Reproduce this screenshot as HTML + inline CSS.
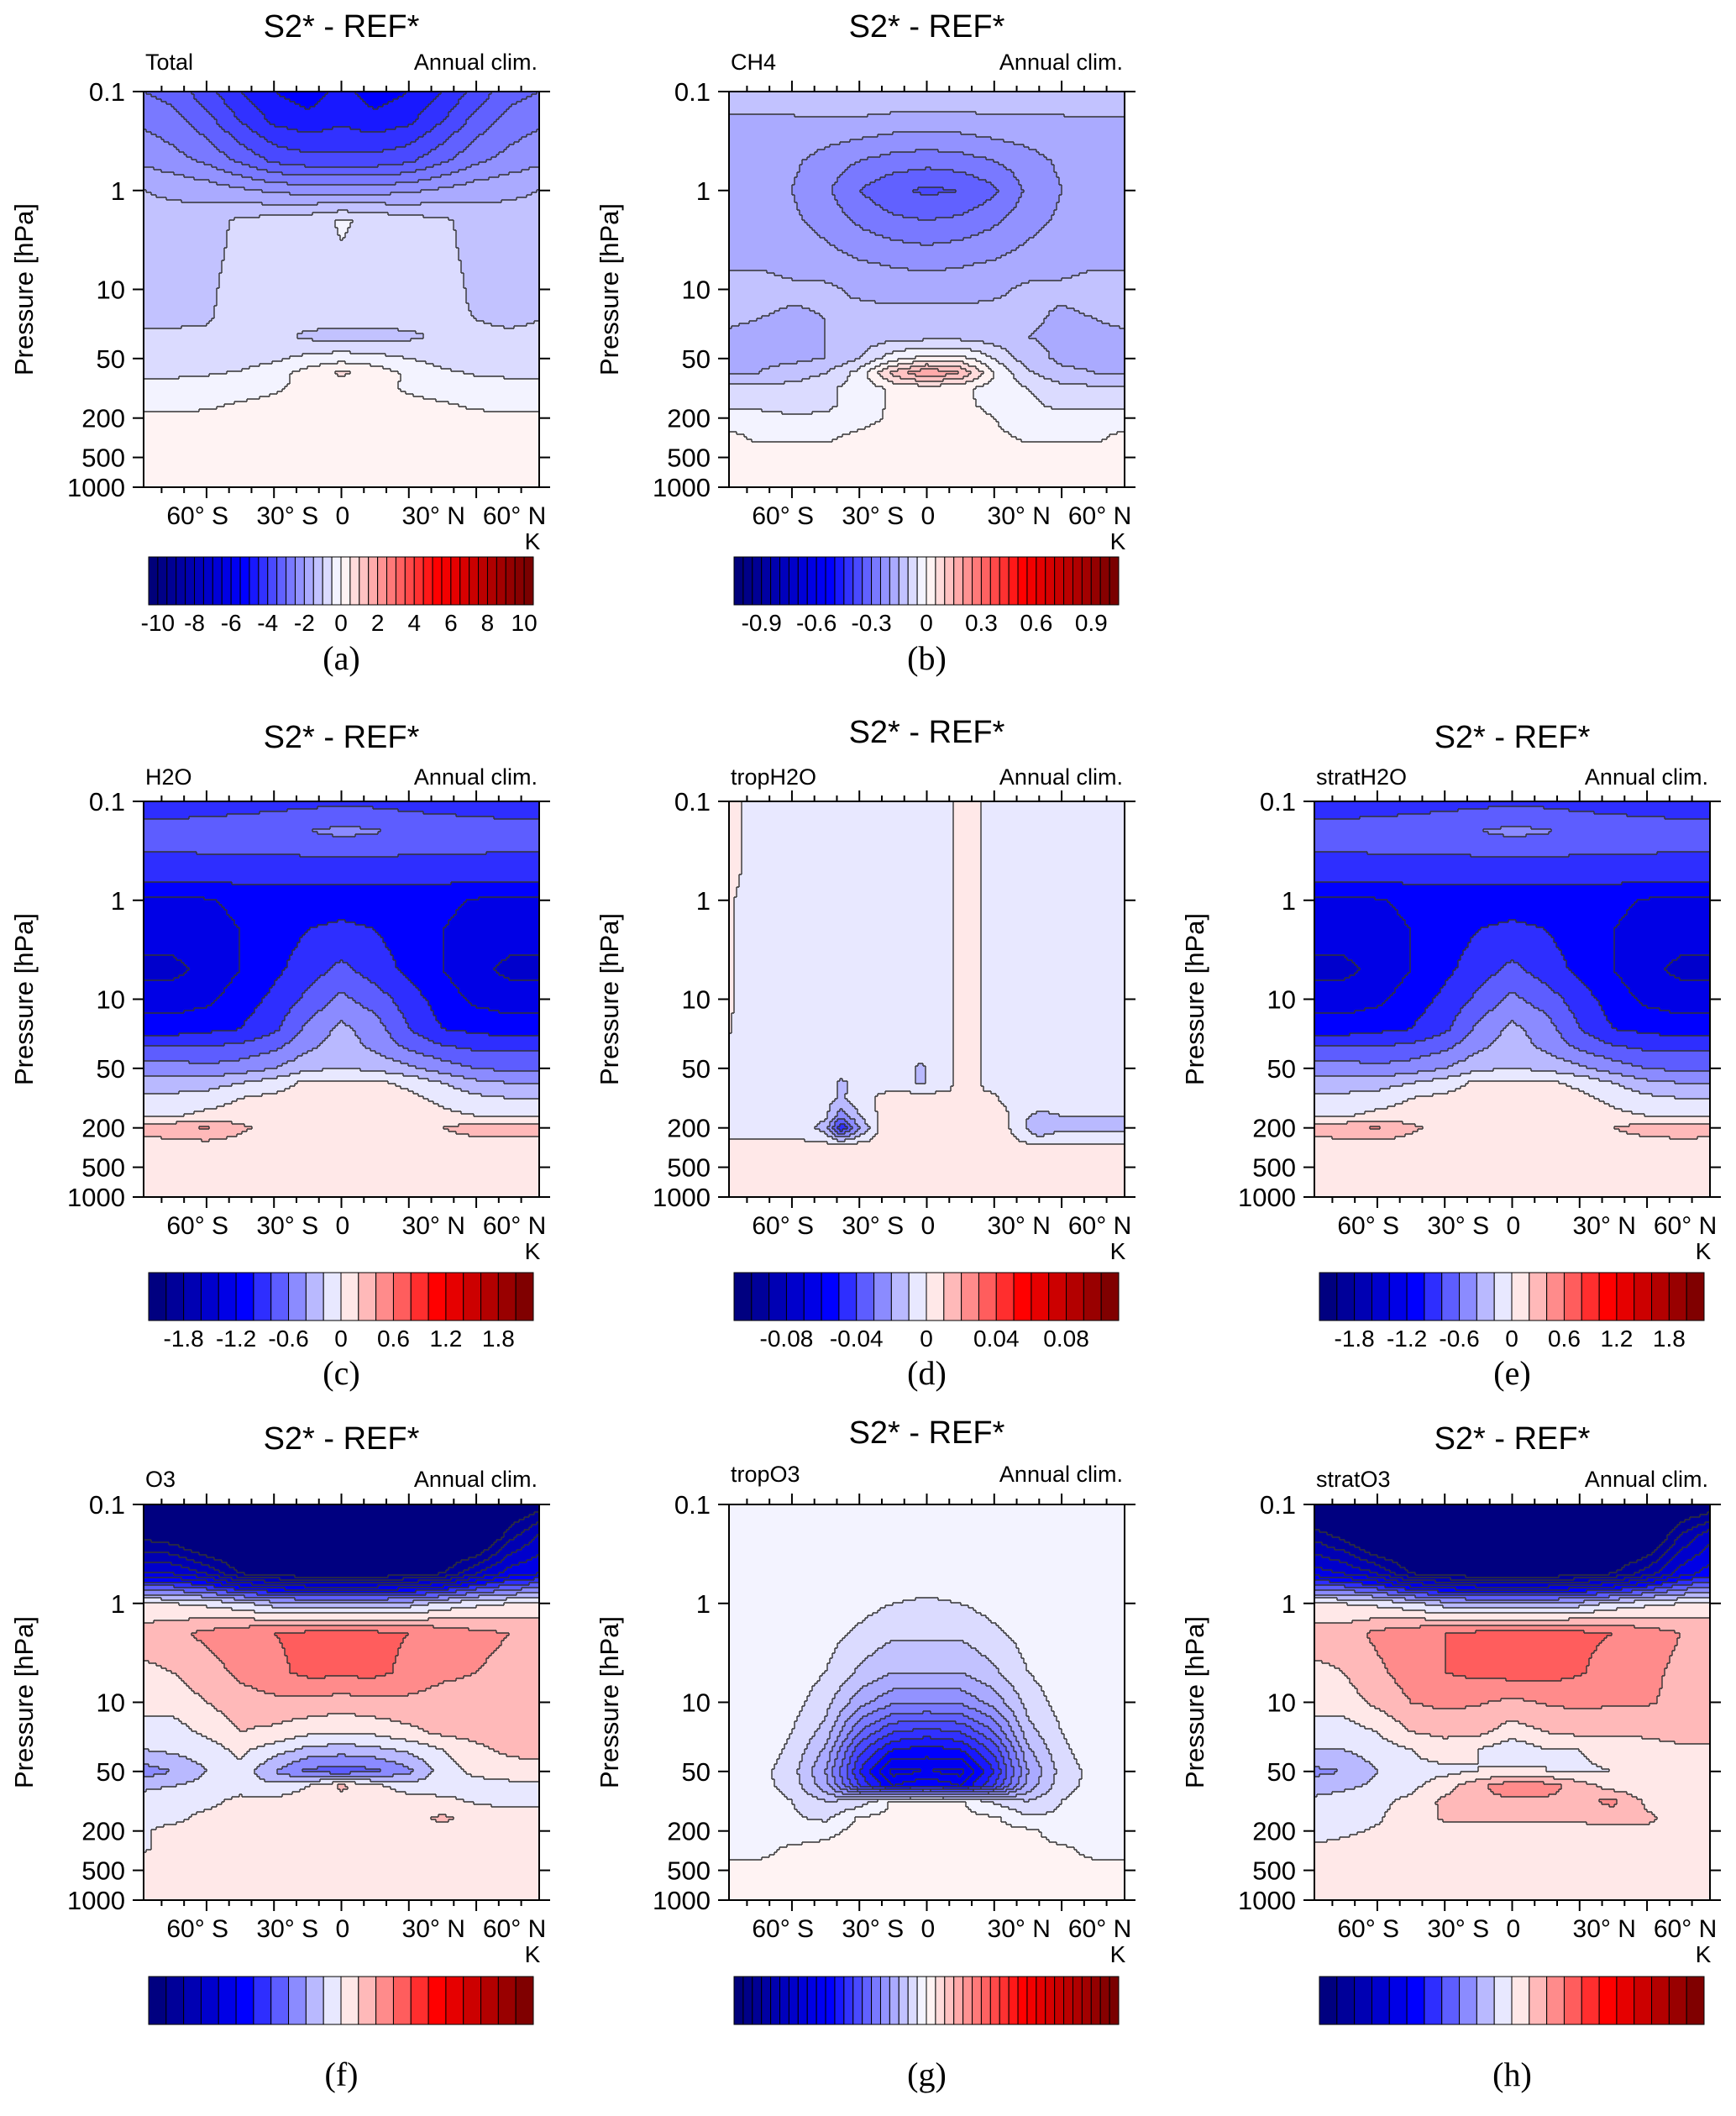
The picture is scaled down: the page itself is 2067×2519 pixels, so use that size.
<!DOCTYPE html>
<html><head><meta charset="utf-8"><title>S2* - REF* zonal mean temperature differences</title>
<style>
html,body{margin:0;padding:0;background:#fff;}
svg{display:block;font-family:"Liberation Sans",sans-serif;}
</style></head>
<body>
<svg id="fig" width="2067" height="2519" viewBox="0 0 2067 2519" xmlns="http://www.w3.org/2000/svg"></svg>
<script>
// ---------- shared axes ----------
const PLEV = [0.1,0.2,0.5,1,2,5,10,20,30,50,70,100,150,200,300,500,1000];
const LATS = [-88,-75,-60,-45,-30,-15,0,15,30,45,60,75,88];
const LATS_D = [-88,-84,-80,-70,-55,-45,-38,-30,-20,-10,-3,5,10,14,22,26,35,42,50,60,75,88];
const yTickVals = [0.1,1,10,50,200,500,1000];
const yTickLabels = ["0.1","1","10","50","200","500","1000"];
const xTickLabels = ["60° S","30° S","0","30° N","60° N"];
const xTickLabelLats = [-64,-24,0.5,41,77];

// ---------- (a) Total ----------
const fieldTotal = [
[-3,-3.2,-3.8,-4.5,-5,-5.3,-4.8,-5.3,-5,-4.5,-3.8,-3.2,-3],
[-2.6,-2.8,-3.3,-4,-4.6,-4.8,-4.6,-4.8,-4.6,-4,-3.3,-2.8,-2.6],
[-2.1,-2.3,-2.6,-3.1,-3.6,-3.8,-3.8,-3.8,-3.6,-3.1,-2.6,-2.3,-2.1],
[-1.5,-1.6,-1.7,-1.9,-2.1,-2.2,-2.2,-2.2,-2.1,-1.9,-1.7,-1.6,-1.5],
[-1.3,-1.3,-1.2,-0.9,-0.8,-0.7,-0.45,-0.6,-0.8,-0.9,-1.2,-1.3,-1.3],
[-1.2,-1.2,-1.1,-0.9,-0.7,-0.6,-0.55,-0.6,-0.7,-0.9,-1.1,-1.2,-1.2],
[-1.1,-1.2,-1.1,-0.8,-0.7,-0.7,-0.7,-0.7,-0.7,-0.8,-1.1,-1.2,-1.1],
[-1.1,-1.1,-1.05,-0.8,-0.8,-0.8,-0.8,-0.8,-0.8,-0.9,-1.0,-1.1,-1.0],
[-0.9,-0.9,-0.9,-0.85,-0.85,-1.1,-1.2,-1.2,-1.1,-0.9,-0.9,-0.9,-0.9],
[-0.8,-0.8,-0.8,-0.75,-0.6,-0.35,-0.2,-0.3,-0.5,-0.7,-0.8,-0.8,-0.8],
[-0.6,-0.6,-0.55,-0.45,-0.2,0.2,0.6,0.3,-0.1,-0.4,-0.55,-0.6,-0.6],
[-0.35,-0.3,-0.25,-0.15,-0.05,0.1,0.15,0.1,-0.05,-0.15,-0.25,-0.3,-0.35],
[-0.1,-0.1,-0.05,0.05,0.1,0.1,0.1,0.1,0.1,0.05,-0.05,-0.1,-0.1],
[0.1,0.1,0.1,0.1,0.1,0.1,0.1,0.1,0.1,0.1,0.1,0.1,0.1],
[0.1,0.1,0.1,0.1,0.1,0.1,0.1,0.1,0.1,0.1,0.1,0.1,0.1],
[0.1,0.1,0.1,0.1,0.1,0.1,0.1,0.1,0.1,0.1,0.1,0.1,0.1],
[0.1,0.1,0.1,0.1,0.1,0.1,0.1,0.1,0.1,0.1,0.1,0.1,0.1]];

// ---------- (b) CH4 ----------
const fieldCH4 = [
[-0.12,-0.12,-0.11,-0.1,-0.1,-0.1,-0.1,-0.11,-0.11,-0.11,-0.11,-0.1,-0.1],
[-0.16,-0.16,-0.16,-0.16,-0.16,-0.17,-0.17,-0.17,-0.16,-0.16,-0.16,-0.16,-0.16],
[-0.17,-0.17,-0.19,-0.22,-0.25,-0.27,-0.28,-0.27,-0.25,-0.22,-0.19,-0.17,-0.17],
[-0.18,-0.18,-0.2,-0.24,-0.3,-0.34,-0.36,-0.35,-0.31,-0.24,-0.2,-0.18,-0.18],
[-0.18,-0.18,-0.19,-0.22,-0.26,-0.29,-0.3,-0.29,-0.26,-0.22,-0.19,-0.18,-0.18],
[-0.16,-0.16,-0.17,-0.18,-0.2,-0.21,-0.22,-0.21,-0.2,-0.18,-0.17,-0.16,-0.16],
[-0.13,-0.13,-0.14,-0.14,-0.16,-0.17,-0.17,-0.17,-0.16,-0.14,-0.14,-0.13,-0.13],
[-0.14,-0.15,-0.16,-0.15,-0.13,-0.13,-0.13,-0.13,-0.13,-0.14,-0.16,-0.15,-0.14],
[-0.16,-0.17,-0.16,-0.15,-0.13,-0.12,-0.12,-0.12,-0.13,-0.15,-0.16,-0.16,-0.16],
[-0.16,-0.16,-0.16,-0.15,-0.1,-0.02,0.02,0.02,-0.05,-0.13,-0.16,-0.16,-0.16],
[-0.15,-0.15,-0.13,-0.1,-0.03,0.12,0.2,0.15,0.0,-0.09,-0.14,-0.15,-0.15],
[-0.08,-0.08,-0.08,-0.06,-0.03,0.01,0.02,0.01,-0.02,-0.05,-0.08,-0.09,-0.09],
[-0.06,-0.06,-0.07,-0.06,-0.03,0.01,0.02,0.01,-0.01,-0.04,-0.06,-0.06,-0.06],
[-0.03,-0.03,-0.04,-0.04,-0.02,0.01,0.02,0.02,0.0,-0.03,-0.03,-0.03,-0.03],
[0.01,-0.01,-0.01,-0.01,0.01,0.02,0.02,0.02,0.01,-0.01,-0.01,-0.01,0.01],
[0.02,0.02,0.02,0.02,0.02,0.02,0.02,0.02,0.02,0.02,0.02,0.02,0.02],
[0.02,0.02,0.02,0.02,0.02,0.02,0.02,0.02,0.02,0.02,0.02,0.02,0.02]];

// ---------- (c) H2O ----------
const fieldH2O = [
[-0.88,-0.88,-0.88,-0.88,-0.88,-0.86,-0.85,-0.86,-0.88,-0.88,-0.88,-0.88,-0.88],
[-0.75,-0.75,-0.72,-0.7,-0.65,-0.6,-0.55,-0.58,-0.65,-0.7,-0.72,-0.75,-0.75],
[-0.85,-0.85,-0.86,-0.88,-0.9,-0.92,-0.92,-0.92,-0.9,-0.88,-0.86,-0.85,-0.85],
[-1.25,-1.25,-1.22,-1.15,-1.1,-1.1,-1.1,-1.1,-1.1,-1.15,-1.22,-1.25,-1.25],
[-1.3,-1.3,-1.28,-1.2,-1.1,-1.0,-0.95,-1.0,-1.1,-1.2,-1.28,-1.3,-1.3],
[-1.45,-1.45,-1.35,-1.2,-1.05,-0.9,-0.75,-0.9,-1.05,-1.2,-1.35,-1.45,-1.45],
[-1.3,-1.3,-1.25,-1.1,-0.95,-0.75,-0.55,-0.7,-0.9,-1.1,-1.25,-1.3,-1.3],
[-1.1,-1.1,-1.05,-1.0,-0.85,-0.55,-0.35,-0.5,-0.8,-1.0,-1.05,-1.1,-1.1],
[-0.8,-0.8,-0.8,-0.75,-0.65,-0.45,-0.3,-0.45,-0.65,-0.78,-0.85,-0.85,-0.85],
[-0.5,-0.5,-0.55,-0.5,-0.4,-0.25,-0.2,-0.25,-0.35,-0.5,-0.6,-0.65,-0.65],
[-0.3,-0.3,-0.3,-0.2,-0.1,0.05,0.05,0.05,-0.05,-0.2,-0.35,-0.4,-0.4],
[-0.15,-0.15,-0.1,0.0,0.05,0.1,0.1,0.1,0.05,-0.05,-0.15,-0.2,-0.2],
[-0.02,-0.02,0.05,0.08,0.1,0.1,0.1,0.1,0.1,0.05,0.0,-0.05,-0.05],
[0.3,0.35,0.42,0.25,0.1,0.1,0.1,0.1,0.1,0.2,0.3,0.32,0.32],
[0.1,0.1,0.12,0.1,0.1,0.1,0.1,0.1,0.1,0.1,0.1,0.1,0.1],
[0.1,0.1,0.1,0.1,0.1,0.1,0.1,0.1,0.1,0.1,0.1,0.1,0.1],
[0.1,0.1,0.1,0.1,0.1,0.1,0.1,0.1,0.1,0.1,0.1,0.1,0.1]];

// ---------- (d) tropH2O ----------
const fieldTropH2O = [
[0.004,0.003,-0.004,-0.004,-0.004,-0.004,-0.004,-0.004,-0.004,-0.004,-0.004,-0.004,-0.004,0.004,0.004,-0.004,-0.004,-0.004,-0.004,-0.004,-0.004,-0.004],
[0.004,0.003,-0.004,-0.004,-0.004,-0.004,-0.004,-0.004,-0.004,-0.004,-0.004,-0.004,-0.004,0.004,0.004,-0.004,-0.004,-0.004,-0.004,-0.004,-0.004,-0.004],
[0.004,0.002,-0.004,-0.004,-0.004,-0.004,-0.004,-0.004,-0.004,-0.004,-0.004,-0.004,-0.004,0.004,0.004,-0.004,-0.004,-0.004,-0.004,-0.004,-0.004,-0.004],
[0.004,-0.002,-0.004,-0.004,-0.004,-0.004,-0.004,-0.004,-0.004,-0.004,-0.004,-0.004,-0.004,0.004,0.004,-0.004,-0.004,-0.004,-0.004,-0.004,-0.004,-0.004],
[0.003,-0.003,-0.004,-0.004,-0.004,-0.004,-0.004,-0.004,-0.004,-0.004,-0.004,-0.004,-0.004,0.004,0.004,-0.004,-0.004,-0.004,-0.004,-0.004,-0.004,-0.004],
[0.003,-0.003,-0.004,-0.004,-0.004,-0.004,-0.004,-0.004,-0.004,-0.004,-0.004,-0.004,-0.004,0.004,0.004,-0.004,-0.004,-0.004,-0.004,-0.004,-0.004,-0.004],
[0.003,-0.003,-0.004,-0.004,-0.004,-0.004,-0.004,-0.004,-0.004,-0.004,-0.004,-0.004,-0.004,0.004,0.004,-0.004,-0.004,-0.004,-0.004,-0.004,-0.004,-0.004],
[0.002,-0.004,-0.004,-0.004,-0.004,-0.004,-0.004,-0.004,-0.004,-0.004,-0.004,-0.004,-0.004,0.004,0.004,-0.004,-0.004,-0.004,-0.004,-0.004,-0.004,-0.004],
[-0.004,-0.004,-0.004,-0.004,-0.004,-0.004,-0.004,-0.004,-0.004,-0.004,-0.006,-0.004,-0.004,0.004,0.004,-0.004,-0.004,-0.004,-0.004,-0.004,-0.004,-0.004],
[-0.004,-0.004,-0.004,-0.004,-0.004,-0.004,-0.004,-0.004,-0.004,-0.004,-0.012,-0.005,-0.004,0.004,0.004,-0.004,-0.004,-0.004,-0.004,-0.004,-0.004,-0.004],
[-0.004,-0.004,-0.004,-0.004,-0.004,-0.006,-0.012,-0.006,-0.004,-0.004,-0.012,-0.006,-0.004,0.004,0.004,-0.004,-0.004,-0.004,-0.004,-0.004,-0.004,-0.004],
[-0.004,-0.004,-0.004,-0.004,-0.004,-0.006,-0.012,-0.004,0.002,0.004,0.004,0.004,0.004,0.004,0.004,0.004,-0.002,-0.004,-0.004,-0.004,-0.004,-0.004],
[-0.004,-0.004,-0.004,-0.004,-0.004,-0.008,-0.025,-0.01,0.003,0.004,0.004,0.004,0.004,0.004,0.004,0.004,0.002,-0.008,-0.012,-0.01,-0.01,-0.01],
[-0.004,-0.004,-0.004,-0.004,-0.004,-0.015,-0.05,-0.02,0.003,0.004,0.004,0.004,0.004,0.004,0.004,0.004,0.002,-0.006,-0.02,-0.012,-0.012,-0.012],
[0.002,0.002,0.002,0.002,0.002,0.003,0.003,0.004,0.004,0.004,0.004,0.004,0.004,0.004,0.004,0.004,0.004,0.002,0.001,0.001,0.001,0.001],
[0.004,0.004,0.004,0.004,0.004,0.004,0.004,0.004,0.004,0.004,0.004,0.004,0.004,0.004,0.004,0.004,0.004,0.004,0.004,0.004,0.004,0.004],
[0.004,0.004,0.004,0.004,0.004,0.004,0.004,0.004,0.004,0.004,0.004,0.004,0.004,0.004,0.004,0.004,0.004,0.004,0.004,0.004,0.004,0.004]];

// ---------- (e) stratH2O ----------
const fieldStratH2O = [
[-0.88,-0.88,-0.88,-0.88,-0.88,-0.86,-0.85,-0.86,-0.88,-0.88,-0.88,-0.88,-0.88],
[-0.75,-0.75,-0.72,-0.7,-0.65,-0.6,-0.55,-0.58,-0.65,-0.7,-0.72,-0.75,-0.75],
[-0.85,-0.85,-0.86,-0.88,-0.9,-0.92,-0.92,-0.92,-0.9,-0.88,-0.86,-0.85,-0.85],
[-1.25,-1.25,-1.22,-1.15,-1.1,-1.1,-1.1,-1.1,-1.1,-1.15,-1.22,-1.25,-1.25],
[-1.3,-1.3,-1.28,-1.2,-1.1,-1.0,-0.95,-1.0,-1.1,-1.2,-1.28,-1.3,-1.3],
[-1.45,-1.45,-1.35,-1.2,-1.05,-0.9,-0.75,-0.9,-1.05,-1.2,-1.35,-1.45,-1.45],
[-1.3,-1.3,-1.25,-1.1,-0.95,-0.75,-0.55,-0.7,-0.9,-1.1,-1.25,-1.3,-1.3],
[-1.1,-1.1,-1.05,-1.0,-0.85,-0.55,-0.35,-0.5,-0.8,-1.0,-1.05,-1.1,-1.1],
[-0.8,-0.8,-0.8,-0.75,-0.65,-0.45,-0.3,-0.45,-0.65,-0.78,-0.85,-0.85,-0.85],
[-0.5,-0.5,-0.55,-0.5,-0.4,-0.25,-0.2,-0.25,-0.35,-0.5,-0.6,-0.65,-0.65],
[-0.3,-0.3,-0.3,-0.2,-0.1,0.05,0.05,0.05,-0.05,-0.2,-0.35,-0.4,-0.4],
[-0.15,-0.15,-0.1,0.0,0.05,0.1,0.1,0.1,0.05,-0.05,-0.15,-0.2,-0.2],
[-0.02,-0.02,0.05,0.08,0.1,0.1,0.1,0.1,0.1,0.05,0.0,-0.05,-0.05],
[0.3,0.35,0.42,0.25,0.1,0.1,0.1,0.1,0.1,0.2,0.3,0.35,0.32],
[0.1,0.1,0.1,0.1,0.1,0.1,0.1,0.1,0.1,0.1,0.1,0.1,0.1],
[0.1,0.1,0.1,0.1,0.1,0.1,0.1,0.1,0.1,0.1,0.1,0.1,0.1],
[0.1,0.1,0.1,0.1,0.1,0.1,0.1,0.1,0.1,0.1,0.1,0.1,0.1]];

// ---------- (f) O3 ----------
const fieldO3 = [
[-2.5,-2.5,-2.5,-2.5,-2.5,-2.5,-2.5,-2.5,-2.5,-2.5,-2.5,-2.3,-2.1],
[-2.1,-2.2,-2.5,-2.5,-2.5,-2.5,-2.5,-2.5,-2.5,-2.5,-2.5,-1.9,-1.6],
[-1.4,-1.4,-1.6,-2.0,-2.1,-2.2,-2.2,-2.2,-2.1,-2.0,-1.6,-1.3,-1.2],
[0.02,0.0,-0.05,-0.15,-0.3,-0.35,-0.35,-0.35,-0.3,-0.15,-0.05,0.0,0.05],
[0.3,0.35,0.45,0.55,0.6,0.65,0.65,0.65,0.6,0.55,0.45,0.4,0.35],
[0.15,0.2,0.3,0.45,0.55,0.65,0.65,0.65,0.55,0.45,0.4,0.35,0.3],
[0.1,0.1,0.2,0.3,0.35,0.35,0.3,0.35,0.35,0.3,0.3,0.3,0.3],
[-0.1,-0.1,0.05,0.2,0.15,0.05,0.02,0.05,0.15,0.25,0.28,0.3,0.3],
[-0.2,-0.15,-0.1,0.05,-0.1,-0.25,-0.3,-0.25,-0.15,0.0,0.15,0.25,0.28],
[-0.5,-0.4,-0.2,-0.05,-0.4,-0.65,-0.7,-0.65,-0.45,-0.1,0.05,0.1,0.1],
[-0.25,-0.2,-0.12,-0.08,-0.15,0.0,0.25,0.05,-0.1,-0.1,-0.08,-0.06,-0.05],
[-0.1,-0.08,-0.05,0.05,0.05,0.1,0.1,0.1,0.1,0.05,-0.02,-0.05,-0.05],
[-0.05,-0.04,0.05,0.1,0.1,0.1,0.1,0.1,0.1,0.25,0.1,0.1,0.1],
[-0.02,0.05,0.1,0.1,0.1,0.1,0.1,0.1,0.1,0.1,0.1,0.1,0.1],
[-0.02,0.05,0.1,0.1,0.1,0.1,0.1,0.1,0.1,0.1,0.1,0.1,0.1],
[0.1,0.1,0.1,0.1,0.1,0.1,0.1,0.1,0.1,0.1,0.1,0.1,0.1],
[0.1,0.1,0.1,0.1,0.1,0.1,0.1,0.1,0.1,0.1,0.1,0.1,0.1]];

// ---------- (g) tropO3 ----------
const fieldTropO3 = [
[-0.02,-0.02,-0.02,-0.02,-0.02,-0.02,-0.02,-0.02,-0.02,-0.02,-0.02,-0.02,-0.02],
[-0.02,-0.02,-0.02,-0.02,-0.02,-0.02,-0.02,-0.02,-0.02,-0.02,-0.02,-0.02,-0.02],
[-0.02,-0.02,-0.02,-0.02,-0.02,-0.03,-0.03,-0.03,-0.02,-0.02,-0.02,-0.02,-0.02],
[-0.02,-0.02,-0.02,-0.02,-0.03,-0.05,-0.055,-0.05,-0.03,-0.02,-0.02,-0.02,-0.02],
[-0.02,-0.02,-0.02,-0.03,-0.06,-0.09,-0.09,-0.09,-0.06,-0.03,-0.02,-0.02,-0.02],
[-0.02,-0.02,-0.02,-0.05,-0.11,-0.15,-0.15,-0.15,-0.11,-0.05,-0.02,-0.02,-0.02],
[-0.02,-0.02,-0.03,-0.08,-0.18,-0.24,-0.24,-0.24,-0.18,-0.08,-0.03,-0.02,-0.02],
[-0.02,-0.02,-0.05,-0.12,-0.3,-0.4,-0.42,-0.4,-0.3,-0.12,-0.05,-0.02,-0.02],
[-0.02,-0.02,-0.06,-0.16,-0.38,-0.5,-0.52,-0.5,-0.38,-0.16,-0.06,-0.02,-0.02],
[-0.02,-0.03,-0.08,-0.2,-0.45,-0.62,-0.6,-0.62,-0.45,-0.2,-0.08,-0.03,-0.02],
[-0.02,-0.03,-0.07,-0.18,-0.4,-0.55,-0.5,-0.55,-0.4,-0.18,-0.07,-0.03,-0.02],
[-0.02,-0.02,-0.05,-0.1,-0.08,0.01,0.01,0.01,-0.06,-0.1,-0.05,-0.02,-0.02],
[-0.02,-0.02,-0.04,-0.06,0.01,0.01,0.01,0.01,0.01,-0.04,-0.04,-0.02,-0.02],
[-0.02,-0.02,-0.02,-0.01,0.01,0.01,0.01,0.01,0.01,0.01,-0.02,-0.02,-0.02],
[-0.01,-0.01,0.005,0.01,0.01,0.01,0.01,0.01,0.01,0.01,0.005,-0.01,-0.01],
[0.01,0.01,0.01,0.01,0.01,0.01,0.01,0.01,0.01,0.01,0.01,0.01,0.01],
[0.01,0.01,0.01,0.01,0.01,0.01,0.01,0.01,0.01,0.01,0.01,0.01,0.01]];

// ---------- (h) stratO3 ----------
const fieldStratO3 = [
[-2.5,-2.5,-2.5,-2.5,-2.5,-2.5,-2.5,-2.5,-2.5,-2.5,-2.5,-2.3,-2.2],
[-1.9,-2.1,-2.5,-2.5,-2.5,-2.5,-2.5,-2.5,-2.5,-2.5,-2.4,-1.8,-1.5],
[-1.3,-1.4,-1.6,-2.0,-2.1,-2.2,-2.2,-2.2,-2.1,-2.0,-1.7,-1.3,-1.1],
[0.02,0.0,-0.05,-0.15,-0.3,-0.35,-0.35,-0.35,-0.3,-0.15,-0.05,0.0,0.05],
[0.3,0.3,0.45,0.55,0.6,0.65,0.68,0.68,0.65,0.6,0.5,0.4,0.35],
[0.15,0.2,0.35,0.5,0.6,0.65,0.68,0.68,0.62,0.5,0.45,0.35,0.3],
[0.1,0.1,0.25,0.4,0.45,0.42,0.35,0.42,0.45,0.42,0.42,0.35,0.3],
[-0.1,-0.1,0.0,0.2,0.25,0.25,0.1,0.2,0.25,0.25,0.25,0.3,0.3],
[-0.2,-0.2,-0.1,0.0,0.1,0.0,-0.15,0.0,0.0,0.05,0.1,0.15,0.15],
[-0.45,-0.4,-0.2,-0.05,-0.05,0.0,0.05,0.0,-0.02,0.0,0.05,0.08,0.1],
[-0.3,-0.25,-0.15,-0.05,0.1,0.35,0.55,0.5,0.3,0.1,0.05,0.05,0.05],
[-0.15,-0.1,-0.05,0.05,0.25,0.35,0.35,0.35,0.35,0.45,0.15,0.05,0.05],
[-0.1,-0.08,-0.02,0.1,0.22,0.25,0.25,0.25,0.25,0.3,0.25,0.1,0.05],
[-0.05,-0.03,0.02,0.1,0.12,0.1,0.1,0.1,0.1,0.1,0.15,0.05,0.05],
[0.02,0.05,0.1,0.1,0.1,0.1,0.1,0.1,0.1,0.1,0.1,0.1,0.1],
[0.1,0.1,0.1,0.1,0.1,0.1,0.1,0.1,0.1,0.1,0.1,0.1,0.1],
[0.1,0.1,0.1,0.1,0.1,0.1,0.1,0.1,0.1,0.1,0.1,0.1,0.1]];

// ---------- colourbar labels ----------
const cbLabelsA = ["-10","-8","-6","-4","-2","0","2","4","6","8","10"];
const cbValsA = [-10,-8,-6,-4,-2,0,2,4,6,8,10];
const cbLabelsB = ["-0.9","-0.6","-0.3","0","0.3","0.6","0.9"];
const cbValsB = [-0.9,-0.6,-0.3,0,0.3,0.6,0.9];
const cbLabelsC = ["-1.8","-1.2","-0.6","0","0.6","1.2","1.8"];
const cbValsC = [-1.8,-1.2,-0.6,0,0.6,1.2,1.8];
const cbLabelsD = ["-0.08","-0.04","0","0.04","0.08"];
const cbValsD = [-0.08,-0.04,0,0.04,0.08];

function makeLevels(lo, hi, step){ const n = Math.round((hi-lo)/step); const a=[]; for(let i=0;i<=n;i++) a.push(lo+i*step); return a; }

const NS = "http://www.w3.org/2000/svg";
const svg = document.getElementById('fig');
function el(tag, attrs, parent){ const e=document.createElementNS(NS,tag); for(const k in attrs) e.setAttribute(k, attrs[k]); (parent||svg).appendChild(e); return e; }

function boxColor(i, nb){
  const t = ((i+0.5)/nb)*2-1; const a=Math.abs(t);
  let r,g,b;
  if(a<=0.5){ const v=Math.round(255*(1-a/0.5)); if(t<0){r=v;g=v;b=255;} else {r=255;g=v;b=v;} }
  else { const c=Math.round(255-(a-0.5)*2*140); if(t<0){r=0;g=0;b=c;} else {r=c;g=0;b=0;} }
  return `rgb(${r},${g},${b})`;
}
function boxIndex(v, levels){ let i=0; while(i<levels.length && v >= levels[i]-1e-9) i++; return i; }

const COLS=[171,868,1565], ROWS=[109,954,1791], W=471, H=471;
const panels = [
 {id:'a', field:fieldTotal, lats:LATS, levels:makeLevels(-10,10,0.5), sub:'Total', col:0,row:0, tdy:-65, sdy:-26, cbL:cbLabelsA, cbV:cbValsA},
 {id:'b', field:fieldCH4, lats:LATS, levels:makeLevels(-1,1,0.05), sub:'CH4', col:1,row:0, tdy:-65, sdy:-26, cbL:cbLabelsB, cbV:cbValsB},
 {id:'c', field:fieldH2O, lats:LATS, levels:makeLevels(-2,2,0.2), sub:'H2O', col:0,row:1, tdy:-64, sdy:-20, cbL:cbLabelsC, cbV:cbValsC},
 {id:'d', field:fieldTropH2O, lats:LATS_D, levels:makeLevels(-0.1,0.1,0.01), sub:'tropH2O', col:1,row:1, tdy:-70, sdy:-20, cbL:cbLabelsD, cbV:cbValsD},
 {id:'e', field:fieldStratH2O, lats:LATS, levels:makeLevels(-2,2,0.2), sub:'stratH2O', col:2,row:1, tdy:-64, sdy:-20, cbL:cbLabelsC, cbV:cbValsC},
 {id:'f', field:fieldO3, lats:LATS, levels:makeLevels(-2,2,0.2), sub:'O3', col:0,row:2, tdy:-66, sdy:-21, cbL:[], cbV:[]},
 {id:'g', field:fieldTropO3, lats:LATS, levels:makeLevels(-1,1,0.05), sub:'tropO3', col:1,row:2, tdy:-73, sdy:-27, cbL:[], cbV:[]},
 {id:'h', field:fieldStratO3, lats:LATS, levels:makeLevels(-2,2,0.2), sub:'stratO3', col:2,row:2, tdy:-66, sdy:-21, cbL:[], cbV:[]}
];
const cbTop=[663,1515,2353], letterY=[797,1648,2483];
const logP = PLEV.map(p=>Math.log10(p));

function sample(field, lats, lat, lp){
  let k=0; while(k<logP.length-2 && lp>logP[k+1]) k++;
  let fy=(lp-logP[k])/(logP[k+1]-logP[k]); fy=Math.max(0,Math.min(1,fy));
  let j=0; while(j<lats.length-2 && lat>lats[j+1]) j++;
  let fx=(lat-lats[j])/(lats[j+1]-lats[j]); fx=Math.max(0,Math.min(1,fx));
  const a=field[k][j], b=field[k][j+1], c=field[k+1][j], d=field[k+1][j+1];
  return (a*(1-fx)+b*fx)*(1-fy)+(c*(1-fx)+d*fx)*fy;
}

panels.forEach(P=>{
  const x0=COLS[P.col], y0=ROWS[P.row];
  const xS = lat => x0 + (lat+88)/176*W;
  const yS = p => y0 + (Math.log10(p)+1)/4*H;
  const g = el('g',{});
  
  

  const nb = P.levels.length+1;
  const fg = el('g',{}, g);
  
  
  const NX=157, NY=157, cw=W/NX, ch=H/NY;
  const idx=[];
  for(let r=0;r<NY;r++){
    const lp = -1 + 4*(r+0.5)/NY;
    const rowIdx=[];
    for(let c=0;c<NX;c++){ const lat=-88+176*(c+0.5)/NX; rowIdx.push(boxIndex(sample(P.field,P.lats,lat,lp),P.levels)); }
    idx.push(rowIdx);
    let runStart=0, runBox=rowIdx[0];
    for(let c=1;c<=NX;c++){
      const bx = c<NX ? rowIdx[c] : -999;
      if(bx!==runBox){
        const rc = el('rect',{x:(x0+runStart*cw).toFixed(2), y:(y0+r*ch).toFixed(2), width:((c-runStart)*cw+0.6).toFixed(2), height:(ch+0.6).toFixed(2), fill:boxColor(runBox,nb)}, fg);
        
        
        runStart=c; runBox=bx;
      }
    }
  }
  let d='';
  for(let r=0;r<NY;r++){
    for(let c=0;c<NX;c++){
      if(c<NX-1 && idx[r][c]!==idx[r][c+1]){ const x=(x0+(c+1)*cw).toFixed(1); d+=`M${x} ${(y0+r*ch).toFixed(1)}V${(y0+(r+1)*ch).toFixed(1)}`; }
      if(r<NY-1 && idx[r][c]!==idx[r+1][c]){ const y=(y0+(r+1)*ch).toFixed(1); d+=`M${(x0+c*cw).toFixed(1)} ${y}H${(x0+(c+1)*cw).toFixed(1)}`; }
    }
  }
  const cl = el('path',{d:d, fill:'none', stroke:'#333', 'stroke-width':1.4}, g);
  
  
  const fr = el('rect',{x:x0,y:y0,width:W,height:H,fill:'none',stroke:'#000','stroke-width':2}, g);
  
  
  for(let lat=-80; lat<=80; lat+=10){
    const major = (lat%30===0);
    const L = major?13:7, x=xS(lat);
    const t1 = el('line',{x1:x,y1:y0,x2:x,y2:y0-L,stroke:'#000','stroke-width':2}, g);
    
    
    const t2 = el('line',{x1:x,y1:y0+H,x2:x,y2:y0+H+L,stroke:'#000','stroke-width':2}, g);
    
    
  }
  xTickLabels.forEach((s,i)=>{
    const t = el('text',{x:xS(xTickLabelLats[i]), y:y0+H+44, 'font-size':30, 'text-anchor':'middle'}, g);
    t.textContent = s;
    
    
  });
  yTickVals.forEach((p,i)=>{
    const y=yS(p);
    const t1 = el('line',{x1:x0-13,y1:y,x2:x0,y2:y,stroke:'#000','stroke-width':2}, g);
    
    
    const t2 = el('line',{x1:x0+W,y1:y,x2:x0+W+13,y2:y,stroke:'#000','stroke-width':2}, g);
    
    
    const t = el('text',{x:x0-22, y:y+11, 'font-size':31, 'text-anchor':'end'}, g);
    t.textContent = yTickLabels[i];
    
    
  });
  const yl = el('text',{x:0,y:0,'font-size':31,'text-anchor':'middle',transform:`translate(${x0-132},${y0+H/2}) rotate(-90)`}, g);
  yl.textContent='Pressure [hPa]';
  
  
  const ti = el('text',{x:x0+W/2,y:y0+P.tdy,'font-size':38,'text-anchor':'middle'}, g);
  ti.textContent='S2* - REF*';
  
  
  const st = el('text',{x:x0+2,y:y0+P.sdy,'font-size':27}, g);
  st.textContent=P.sub;
  
  
  const sr = el('text',{x:x0+W-2,y:y0+P.sdy,'font-size':27,'text-anchor':'end'}, g);
  sr.textContent='Annual clim.';
  
  
  const k = el('text',{x:x0+463,y:y0+H+74,'font-size':28,'text-anchor':'middle'}, g);
  k.textContent='K';
  
  
  const cb = el('g',{}, g);
  
  
  const cbx=x0+6, cbw=458, cby=cbTop[P.row], cbh=57, bw=cbw/nb;
  for(let i=0;i<nb;i++){
    const b = el('rect',{x:(cbx+i*bw).toFixed(2),y:cby,width:bw.toFixed(2),height:cbh,fill:boxColor(i,nb),stroke:'#000','stroke-width':1}, cb);
    
    
  }
  P.cbL.forEach((s,i)=>{
    const li = P.levels.findIndex(l=>Math.abs(l-P.cbV[i])<1e-6);
    const t = el('text',{x:cbx+(li+1)*bw, y:cby+cbh+31,'font-size':28,'text-anchor':'middle'}, cb);
    t.textContent=s;
    
    
  });
  const lt = el('text',{x:x0+W/2,y:letterY[P.row],'font-size':40,'text-anchor':'middle','font-family':'"Liberation Serif",serif'}, g);
  lt.textContent='('+P.id+')';
  
  
});
</script>
</body></html>
